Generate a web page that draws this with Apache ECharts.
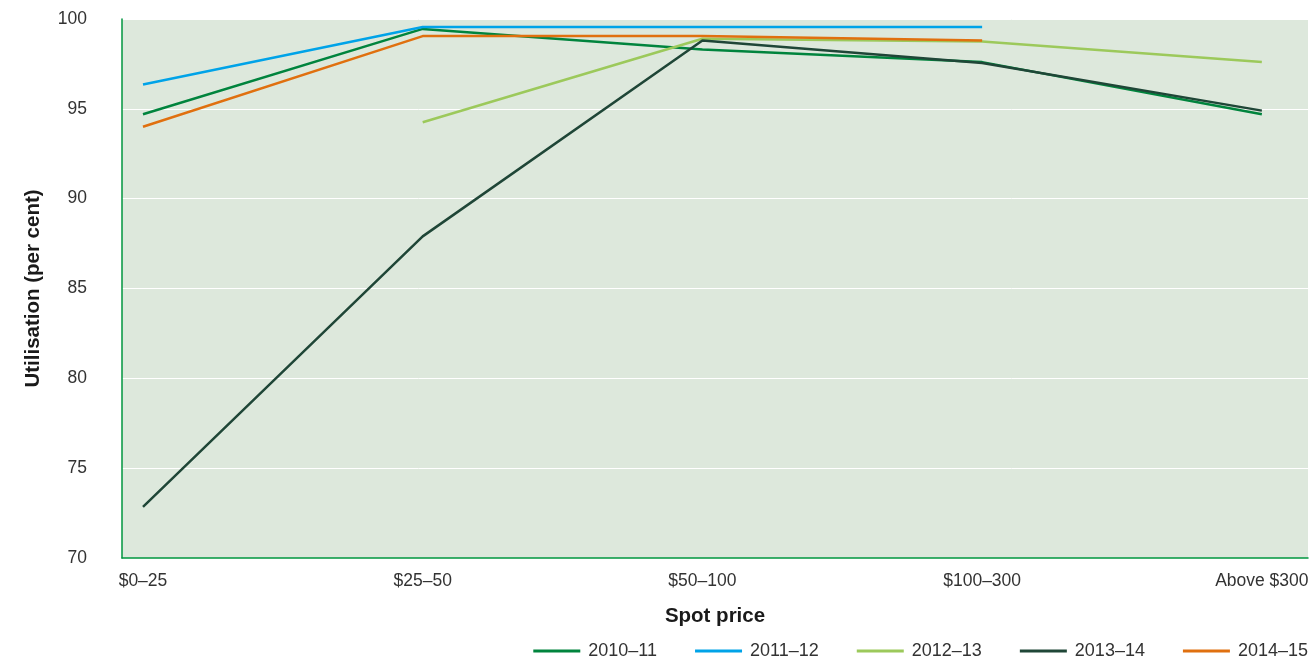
<!DOCTYPE html>
<html>
<head>
<meta charset="utf-8">
<script src="https://cdn.jsdelivr.net/npm/echarts@6/dist/echarts.min.js"></script>
<style>
html,body{margin:0;padding:0;background:#fff;}
#chart{width:1316px;height:661px;}
</style>
</head>
<body>
<div id="chart"></div>
<script>
const categories = ['$0–25', '$25–50', '$50–100', '$100–300', 'Above $300'];
const seriesNames = ['2010–11', '2011–12', '2012–13', '2013–14', '2014–15'];
const s2010 = [94.7, 99.45, 98.3, 97.6, 94.7];
const s2011 = [96.35, 99.55, 99.55, 99.55, null];
const s2012 = [null, 94.25, 98.9, 98.75, 97.6];
const s2013 = [72.85, 87.9, 98.8, 97.55, 94.9];
const s2014 = [94.0, 99.05, 99.05, 98.8, null];
const yTicks = [70, 75, 80, 85, 90, 95, 100];
const colors = ['#00843d', '#00a3e8', '#9cc95b', '#1f4637', '#e0700f'];

const allData = [s2010, s2011, s2012, s2013, s2014];
function toPoints(arr) {
  const pts = [];
  arr.forEach((v, i) => { if (v !== null) pts.push([i, v]); });
  return pts;
}

const chart = echarts.init(document.getElementById('chart'));
const font = '"Liberation Sans", Arial, Helvetica, sans-serif';
chart.setOption({
  animation: false,
  textStyle: { fontFamily: font },
  grid: {
    left: 122, right: 8, top: 19, bottom: 103,
    show: true, backgroundColor: '#dde8dc', borderWidth: 0
  },
  xAxis: {
    type: 'value',
    min: -0.075, max: 4.165,
    name: 'Spot price',
    nameLocation: 'middle',
    nameGap: 48,
    nameTextStyle: { fontSize: 20.5, fontWeight: 'bold', color: '#1a1a1a', fontFamily: font },
    axisLine: { show: true, onZero: false, lineStyle: { color: '#00963f', width: 1.5 } },
    axisTick: { show: false },
    splitLine: { show: false },
    axisLabel: {
      customValues: [0, 1, 2, 3, 4],
      formatter: v => categories[Math.round(v)],
      fontSize: 17.5, color: '#333', margin: 14, fontFamily: font
    }
  },
  yAxis: {
    type: 'value',
    min: yTicks[0], max: yTicks[yTicks.length - 1], interval: 5,
    name: 'Utilisation (per cent)',
    nameLocation: 'middle',
    nameGap: 78,
    nameTextStyle: { fontSize: 20.5, fontWeight: 'bold', color: '#1a1a1a', fontFamily: font },
    axisLine: { show: true, onZero: false, lineStyle: { color: '#00963f', width: 1.5 } },
    axisTick: { show: false },
    splitLine: { show: true, lineStyle: { color: '#ffffff', width: 1 } },
    axisLabel: { fontSize: 17.5, color: '#333', margin: 35, fontFamily: font }
  },
  legend: {
    right: 8, bottom: 1, padding: 0,
    itemWidth: 47, itemHeight: 3, itemGap: 38,
    icon: 'rect',
    textStyle: { fontSize: 18, color: '#333', fontFamily: font, padding: [0, 0, 0, 3] },
    data: seriesNames
  },
  series: allData.map((arr, i) => ({
    name: seriesNames[i],
    type: 'line',
    data: toPoints(arr),
    symbol: 'none',
    lineStyle: { color: colors[i], width: 2.5 },
    itemStyle: { color: colors[i] }
  }))
});
</script>
</body>
</html>
